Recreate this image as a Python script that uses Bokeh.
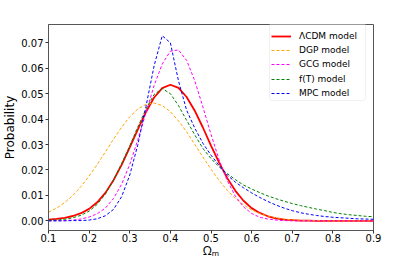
from bokeh.plotting import figure
from bokeh.models import (FixedTicker, PrintfTickFormatter, Range1d, Legend, LegendItem,
                          BoxAnnotation)
from bokeh.embed import file_html
from bokeh.resources import INLINE

omega = [0.10, 0.12, 0.14, 0.16, 0.18, 0.20, 0.22, 0.24, 0.26, 0.28,
         0.30, 0.32, 0.34, 0.36, 0.38, 0.40, 0.42, 0.44, 0.46, 0.48,
         0.50, 0.52, 0.54, 0.56, 0.58, 0.60, 0.62, 0.64, 0.66, 0.68,
         0.70, 0.72, 0.74, 0.76, 0.78, 0.80, 0.82, 0.84, 0.86, 0.88, 0.90]

lcdm = [0.0005, 0.0008, 0.0012, 0.0019, 0.0030, 0.0047, 0.0073, 0.0110, 0.0160, 0.0220,
        0.0289, 0.0360, 0.0428, 0.0485, 0.0522, 0.0535, 0.0523, 0.0487, 0.0433, 0.0367,
        0.0296, 0.0229, 0.0168, 0.0118, 0.0079, 0.0050, 0.0031, 0.0018, 0.0010, 0.0005,
        0.0003, 0.0001, 0.0001, 0.0, 0.0, 0.0, 0.0, 0.0, 0.0, 0.0, 0.0]

dgp = [0.0034, 0.0050, 0.0072, 0.0100, 0.0135, 0.0176, 0.0222, 0.0271, 0.0321, 0.0368,
       0.0409, 0.0440, 0.0458, 0.0463, 0.0453, 0.0429, 0.0393, 0.0350, 0.0301, 0.0251,
       0.0203, 0.0159, 0.0120, 0.0088, 0.0063, 0.0043, 0.0029, 0.0019, 0.0012, 0.0007,
       0.0004, 0.0002, 0.0001, 0.0001, 0.0, 0.0, 0.0, 0.0, 0.0, 0.0, 0.0]

gcg = [0.0, 0.00005, 0.00012, 0.0003, 0.0007, 0.0015, 0.0028, 0.0050, 0.0088, 0.0144,
       0.0222, 0.0319, 0.0426, 0.0532, 0.0617, 0.0667, 0.0672, 0.0631, 0.0551, 0.0448,
       0.0340, 0.0240, 0.0158, 0.0097, 0.0055, 0.0029, 0.0014, 0.0007, 0.0003, 0.0001,
       0.0, 0.0, 0.0, 0.0, 0.0, 0.0, 0.0, 0.0, 0.0, 0.0, 0.0]

ft = [0.0002, 0.0003, 0.0006, 0.0012, 0.0022, 0.0038, 0.0065, 0.0105, 0.0160, 0.0225,
      0.0295, 0.0370, 0.0440, 0.0497, 0.0520, 0.0500, 0.0453, 0.0395, 0.0338, 0.0285,
      0.0245, 0.0212, 0.0186, 0.0162, 0.0141, 0.0125, 0.0111, 0.0098, 0.0087, 0.0077,
      0.0068, 0.0060, 0.0053, 0.0046, 0.0040, 0.0033, 0.0028, 0.0024, 0.0021, 0.0018, 0.0016]

mpc = [0.0, 0.0, 0.0, 0.0001, 0.0001, 0.0003, 0.0008, 0.0020, 0.0045, 0.0095,
       0.0180, 0.0300, 0.0450, 0.0610, 0.0728, 0.0700, 0.0550, 0.0435, 0.0365, 0.0305,
       0.0258, 0.0218, 0.0180, 0.0152, 0.0130, 0.0110, 0.0092, 0.0076, 0.0062, 0.0050,
       0.0040, 0.0032, 0.0026, 0.0021, 0.0017, 0.0014, 0.0012, 0.0010, 0.0008, 0.0007, 0.0006]

labels = ["\u039bCDM model", "DGP model", "GCG model", "f(T) model", "MPC model"]
series = [lcdm, dgp, gcg, ft, mpc]
colors = ["red", "#ffa500", "#ff00ff", "green", "blue"]

x_ticks = [0.1, 0.2, 0.3, 0.4, 0.5, 0.6, 0.7, 0.8, 0.9]
y_ticks = [0.00, 0.01, 0.02, 0.03, 0.04, 0.05, 0.06, 0.07]

FONT = "DejaVu Sans"
FRAME = "#555555"
W, H = 399, 261
BL, BR, BT, BB = 44, 26, 24, 27
FH = H - BT - BB

p = figure(width=W, height=H, output_backend="svg", toolbar_location=None,
           x_range=Range1d(0.1, 0.9), y_range=Range1d(-0.0038, 0.0772),
           min_border_left=BL, min_border_right=BR, min_border_top=BT, min_border_bottom=BB)
p.background_fill_color = "white"
p.border_fill_color = "white"
p.grid.visible = False
p.outline_line_color = FRAME
p.outline_line_width = 1

renderers = []
for i, (ys, col) in enumerate(zip(series, colors)):
    if i == 0:
        r = p.line(omega, ys, line_color=col, line_width=1.8)
    else:
        r = p.line(omega, ys, line_color=col, line_width=1, line_dash="3 2")
    renderers.append(r)

for ax in (p.xaxis[0], p.yaxis[0]):
    ax.axis_line_color = FRAME
    ax.major_tick_line_color = "#333333"
    ax.major_tick_out = 3
    ax.major_tick_in = 0
    ax.minor_tick_out = 0
    ax.minor_tick_in = 0
    ax.major_label_text_font = FONT
    ax.major_label_text_font_size = "10px"
    ax.major_label_text_color = "black"
    ax.axis_label_text_font = FONT
    ax.axis_label_text_font_size = "12px"
    ax.axis_label_text_font_style = "normal"
    ax.axis_label_text_color = "black"

p.xaxis.ticker = FixedTicker(ticks=x_ticks)
p.xaxis.formatter = PrintfTickFormatter(format="%.1f")
p.yaxis.ticker = FixedTicker(ticks=y_ticks)
p.yaxis.formatter = PrintfTickFormatter(format="%.2f")
p.xaxis.axis_label = "\u03a9\u2098"
p.xaxis.axis_label_text_font = "Noto Sans"
p.yaxis.axis_label = "Probability"
p.xaxis.major_label_standoff = 0
p.xaxis.axis_label_standoff = -3
p.yaxis.major_label_standoff = 2
p.yaxis.axis_label_standoff = 1

# legend frame (screen units relative to the plot frame)
box = BoxAnnotation(left=221, right=317, top=FH - 2, bottom=FH - 80,
                    left_units="screen", right_units="screen",
                    top_units="screen", bottom_units="screen",
                    fill_color="white", fill_alpha=0.8,
                    line_color="#cccccc", line_width=1, border_radius=3,
                    level="annotation")
p.add_layout(box)

ROW = 14.2
for k, (lab, r) in enumerate(zip(labels, renderers)):
    lg = Legend(items=[LegendItem(label=lab, renderers=[r])],
                location=(223, FH - 2 - 5 - 14 - ROW * k))
    lg.margin = 0
    lg.padding = 2
    lg.spacing = 0
    lg.glyph_width = 20
    lg.glyph_height = 10
    lg.label_height = 10
    lg.label_standoff = 8
    lg.label_text_font = FONT
    lg.label_text_font_size = "9px"
    lg.label_text_color = "black"
    lg.label_text_baseline = "middle"
    lg.border_line_color = None
    lg.background_fill_alpha = 0
    p.add_layout(lg)

open("out.html", "w").write(file_html(p, INLINE))
